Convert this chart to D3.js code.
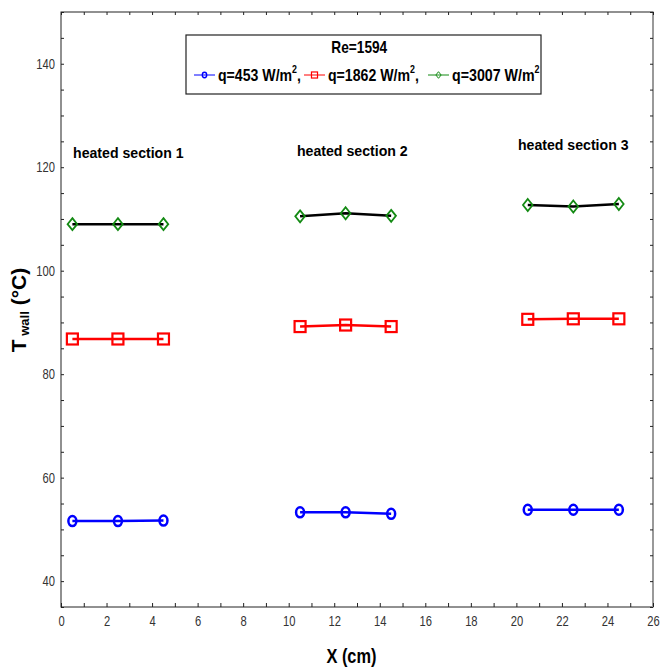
<!DOCTYPE html>
<html>
<head>
<meta charset="utf-8">
<script src="https://cdn.jsdelivr.net/npm/d3@7"></script>
<style>
  body { margin: 0; background: #fff; }
  svg { display: block; font-family: "Liberation Sans", Arial, sans-serif; }
</style>
</head>
<body>
<div id="chart"></div>
<script>
// data
const xPos = [[0.5, 2.5, 4.5], [10.5, 12.5, 14.5], [20.5, 22.5, 24.5]];
const q453 = [[51.6, 51.6, 51.7], [53.3, 53.3, 53.0], [53.8, 53.8, 53.8]];
const q1862 = [[86.8, 86.8, 86.8], [89.2, 89.5, 89.2], [90.6, 90.7, 90.7]];
const q3007 = [[109.0, 109.0, 109.0], [110.5, 111.1, 110.6], [112.7, 112.4, 112.9]];
const sectionLabels = ["heated section 1", "heated section 2", "heated section 3"];
const sectionLabelPos = [[0.53, 121.8], [10.36, 122.2], [20.07, 123.4]];
const yTicks = [40, 60, 80, 100, 120, 140];

const width = 661, height = 669;
const margin = {top: 12, right: 8, bottom: 62, left: 61};

const svg = d3.select("#chart").append("svg")
    .attr("width", width)
    .attr("height", height);

const x = d3.scaleLinear().domain([0, 26]).range([margin.left, width - margin.right]);
const y = d3.scaleLinear().domain([35, 150]).range([height - margin.bottom, margin.top]);

// squeeze a text element horizontally to a given width (the source font is a narrow one)
function squeeze(sel, w) {
    sel.each(function () {
        const b = this.getBBox();
        const k = w / b.width;
        d3.select(this).attr("transform", `translate(${b.x},0) scale(${k},1) translate(${-b.x},0)`);
    });
}

// frame
svg.append("rect")
    .attr("x", x(0)).attr("y", y(150))
    .attr("width", x(26) - x(0)).attr("height", y(35) - y(150))
    .attr("fill", "none").attr("stroke", "#222").attr("stroke-width", 1);
svg.append("line")
    .attr("x1", x(26)).attr("x2", x(26)).attr("y1", y(150)).attr("y2", y(35))
    .attr("stroke", "#999").attr("stroke-width", 2);

// axes with inward ticks
const tickStyle = g => {
    g.select(".domain").remove();
    g.selectAll(".tick line").attr("stroke", "#222");
    g.selectAll(".tick text").attr("fill", "#333").attr("font-size", 14);
};

const xa = svg.append("g")
    .attr("transform", `translate(0,${y(35)})`)
    .call(d3.axisBottom(x).tickValues(d3.range(0, 27, 1)).tickSize(-4).tickFormat(d => d % 2 === 0 ? d : "").tickPadding(9))
    .call(tickStyle);
xa.selectAll(".tick text").attr("transform", "scale(0.8,1)").attr("x", 0);
svg.append("g")
    .attr("transform", `translate(0,${y(150)})`)
    .call(d3.axisTop(x).tickValues(d3.range(0, 27, 1)).tickSize(-3).tickFormat(""))
    .call(tickStyle);
const ya = svg.append("g")
    .attr("transform", `translate(${x(0)},0)`)
    .call(d3.axisLeft(y).tickValues(d3.range(35, 151, 5)).tickSize(-3).tickFormat(d => yTicks.includes(d) ? d : "").tickPadding(6))
    .call(tickStyle);
ya.selectAll(".tick text").attr("transform", "translate(-6,0) scale(0.8,1)").attr("x", 0);
svg.append("g")
    .attr("transform", `translate(${x(26)},0)`)
    .call(d3.axisRight(y).tickValues(d3.range(35, 151, 5)).tickSize(-3).tickFormat(""))
    .call(tickStyle);

// axis titles
const xt = svg.append("text")
    .attr("x", (x(0) + x(26)) / 2).attr("y", 663)
    .attr("text-anchor", "middle")
    .attr("font-size", 20).attr("font-weight", "bold")
    .text("X (cm)");
squeeze(xt, 50);

const yt = svg.append("text")
    .attr("transform", `translate(26,310) rotate(-90)`)
    .attr("text-anchor", "middle")
    .attr("font-weight", "bold");
yt.append("tspan").attr("font-size", 21).text("T");
yt.append("tspan").attr("font-size", 13).attr("dy", 3).text(" wall");
yt.append("tspan").attr("font-size", 21).attr("dy", -3).text(" (°C)");

// series
const series = [
    {values: q453, color: "#0000ff", line: "#0000ff", marker: "circle"},
    {values: q1862, color: "#ff0000", line: "#ff0000", marker: "square"},
    {values: q3007, color: "#138a13", line: "#000000", marker: "diamond"}
];

const line = d3.line().x(d => x(d[0])).y(d => y(d[1]));

function drawMarker(g, type, color, cx, cy, s) {
    if (type === "circle") {
        g.append("ellipse").attr("cx", cx).attr("cy", cy)
            .attr("rx", 4 * s).attr("ry", 5 * s)
            .attr("fill", "none").attr("stroke", color).attr("stroke-width", 2.5 * s);
    } else if (type === "square") {
        g.append("rect").attr("x", cx - 5.5 * s).attr("y", cy - 5.5 * s)
            .attr("width", 11 * s).attr("height", 11 * s)
            .attr("fill", "none").attr("stroke", color).attr("stroke-width", 2.2 * s);
    } else {
        const w = 4.8 * s, h = 6 * s;
        g.append("path")
            .attr("d", `M${cx},${cy - h}L${cx + w},${cy}L${cx},${cy + h}L${cx - w},${cy}Z`)
            .attr("fill", "none").attr("stroke", color).attr("stroke-width", 1.8 * s);
    }
}

series.forEach(s => {
    const g = svg.append("g");
    s.values.forEach((vals, i) => {
        const pts = vals.map((v, j) => [xPos[i][j], v]);
        g.append("path").attr("d", line(pts))
            .attr("fill", "none").attr("stroke", s.line).attr("stroke-width", 2.5);
        pts.forEach(p => drawMarker(g, s.marker, s.color, x(p[0]), y(p[1]), 1));
    });
});

// section labels
const sec = svg.selectAll(".sec").data(sectionLabels).enter().append("text")
    .attr("x", (d, i) => x(sectionLabelPos[i][0]))
    .attr("y", (d, i) => y(sectionLabelPos[i][1]))
    .attr("font-size", 15.5).attr("font-weight", "bold")
    .text(d => d);
squeeze(sec, 111);

// legend
const lg = svg.append("g");
lg.append("rect").attr("x", 186).attr("y", 35).attr("width", 355).attr("height", 59)
    .attr("fill", "#fff").attr("stroke", "#222").attr("stroke-width", 1.2);
const re = lg.append("text").attr("x", 364).attr("y", 53).attr("text-anchor", "middle")
    .attr("font-size", 16).attr("font-weight", "bold").text("Re=1594");
squeeze(re, 56);

const legendItems = [
    {x0: 194, label: "q=453 W/m", tail: ",", s: series[0], w: 83},
    {x0: 304, label: "q=1862 W/m", tail: ",", s: series[1], w: 91},
    {x0: 428, label: "q=3007 W/m", tail: "", s: series[2], w: 88}
];
legendItems.forEach(it => {
    lg.append("line").attr("x1", it.x0).attr("x2", it.x0 + 21).attr("y1", 75).attr("y2", 75)
        .attr("stroke", it.s.color).attr("stroke-width", 1);
    drawMarker(lg, it.s.marker, it.s.color, it.x0 + 10.5, 75, 0.55);
    const t = lg.append("text").attr("x", it.x0 + 24).attr("y", 81)
        .attr("font-size", 16).attr("font-weight", "bold");
    t.append("tspan").text(it.label);
    t.append("tspan").attr("font-size", 10).attr("dy", -8).text("2");
    t.append("tspan").attr("dy", 8).text(it.tail);
    squeeze(t, it.w);
});
</script>
</body>
</html>
